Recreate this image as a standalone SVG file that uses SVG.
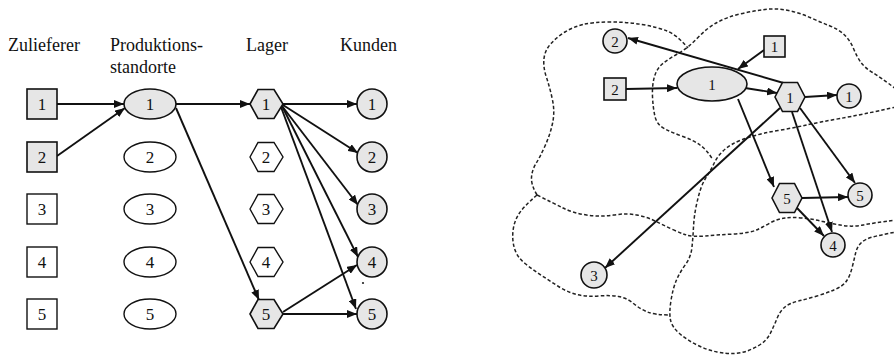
<svg xmlns="http://www.w3.org/2000/svg" width="894" height="355" viewBox="0 0 894 355">
<style>
.hdr{font-family:"Liberation Serif","Times New Roman",serif;font-size:18px;fill:#111}
.n{font-family:"Liberation Serif","Times New Roman",serif;font-size:17px;fill:#111;text-anchor:middle}
.ns{font-family:"Liberation Serif","Times New Roman",serif;font-size:15px;fill:#111;text-anchor:middle}
.f{fill:#e6e6e6;stroke:#111;stroke-width:1.6}
.w{fill:#fff;stroke:#111;stroke-width:1.4}
.a{fill:none;stroke:#111;stroke-width:1.9;marker-end:url(#ah)}
.d{fill:none;stroke:#222;stroke-width:1.5;stroke-dasharray:3.5 2.2}
</style>
<defs>
<marker id="ah" markerUnits="userSpaceOnUse" markerWidth="11" markerHeight="8" refX="10" refY="4" orient="auto">
<path d="M0,0 L10,4 L0,8 z" fill="#111"/>
</marker>
</defs>
<rect width="894" height="355" fill="#fff"/>

<g id="headers">
<text class="hdr" x="8" y="51">Zulieferer</text>
<text class="hdr" x="110" y="51">Produktions-</text>
<text class="hdr" x="110" y="73">standorte</text>
<text class="hdr" x="246" y="51">Lager</text>
<text class="hdr" x="340" y="51">Kunden</text>
</g>

<g id="regions">
<path class="d" d="M537,195 Q531,185 531.5,177.5 Q532,170 536,163.5 Q540,157 545,146 Q550,135 552.5,123.5 Q555,112 552.5,100 Q550,88 546.5,77.5 Q543,67 544,58.5 Q545,50 551,43.5 Q557,37 565,32 Q573,27 583,24.5 Q593,22 610,22 Q627,22 642,24.5 Q657,27 667,31 Q677,35 688,48"/>
<path class="d" d="M896,89 Q880,77 872.5,72.5 Q865,68 861,62.5 Q857,57 853.5,48.5 Q850,40 844,34.5 Q838,29 829,25.5 Q820,22 810,17.5 Q800,13 788.5,10.5 Q777,8 765,9.5 Q753,11 740,14 Q727,17 717,22.5 Q707,28 697.5,38 Q688,48 679,53 Q670,58 663.5,63 Q657,68 654.5,76.5 Q652,85 652.5,96.5 Q653,108 655,116.5 Q657,125 665,129 Q673,133 683,136.5 Q693,140 700,145 Q707,150 713,160"/>
<path class="d" d="M896,107 Q860,115 840,118.5 Q820,122 806.5,125 Q793,128 778,130.5 Q763,133 751.5,136.5 Q740,140 733.5,143.5 Q727,147 722,152 Q717,157 714,163.5 Q711,170 707,176 Q703,182 700.5,189.5 Q698,197 696,207 Q694,217 693.5,227 Q693,237 692,247 Q691,257 685.5,264.5 Q680,272 676.5,280 Q673,288 671,300.5 Q669,313 670.5,320 Q672,327 679.5,333.5 Q687,340 697,345 Q707,350 717,352 Q727,354 734.5,353.5 Q742,353 748.5,350.5 Q755,348 761,344 Q767,340 770.5,333 Q774,326 777,318.5 Q780,311 785,307 Q790,303 798.5,301 Q807,299 817,296 Q827,293 835,289.5 Q843,286 846.5,281 Q850,276 852,268 Q854,260 855.5,253.5 Q857,247 861,243 Q865,239 872.5,237 Q880,235 896,232"/>
<path class="d" d="M537,195 Q553,203 563,208 Q573,213 586.5,215 Q600,217 613.5,215 Q627,213 637,215 Q647,217 655,221 Q663,225 671.5,229 Q680,233 686.5,235 Q693,237 705,236 Q717,235 733.5,234 Q750,233 756.5,230 Q763,227 770,223 Q777,219 785,218 Q793,217 803,218 Q813,219 823,221.5 Q833,224 843,225.5 Q853,227 863,225 Q873,223 896,220"/>
<path class="d" d="M537,195 Q523,207 518.5,214.5 Q514,222 513,231 Q512,240 514.5,248.5 Q517,257 525,263.5 Q533,270 541.5,275.5 Q550,281 558.5,286.5 Q567,292 577,294.5 Q587,297 598.5,296 Q610,295 618.5,296.5 Q627,298 633.5,303.5 Q640,309 647.5,312 Q655,315 670,315"/>
</g>

<g id="connectors">
<path class="a" d="M57,104 L124,104"/>
<path class="a" d="M57,156 L125,108"/>
<path class="a" d="M176,104 L250,104"/>
<path class="a" d="M176,108 L259,300"/>
<path class="a" d="M283,104 L357,104"/>
<path class="a" d="M283,105 L358,153"/>
<path class="a" d="M282,106 L358,205"/>
<path class="a" d="M282,106 L358,257"/>
<path class="a" d="M281,107 L356,309"/>
<path class="a" d="M283,312 L357,265"/>
<path class="a" d="M283,314 L357,314"/>

<path class="a" d="M626,89 L677,88"/>
<path class="a" d="M764,50 L738,69"/>
<path class="a" d="M745,88 L777,93"/>
<path class="a" d="M787,84 L628,38"/>
<path class="a" d="M805,97 L837,95"/>
<path class="a" d="M738,99 L774,187"/>
<path class="a" d="M780,108 L605,268"/>
<path class="a" d="M792,112 L832,232"/>
<path class="a" d="M800,108 L855,183"/>
<path class="a" d="M802,198 L848,197"/>
<path class="a" d="M797,208 L824,236"/>
</g>

<g id="L-S1"><rect class="f" x="27" y="89" width="30" height="30"/><text class="n" x="42" y="110">1</text></g>
<g id="L-S2"><rect class="f" x="27" y="142" width="30" height="30"/><text class="n" x="42" y="163">2</text></g>
<g id="L-S3"><rect class="w" x="27" y="194" width="30" height="30"/><text class="n" x="42" y="215">3</text></g>
<g id="L-S4"><rect class="w" x="27" y="247" width="30" height="30"/><text class="n" x="42" y="268">4</text></g>
<g id="L-S5"><rect class="w" x="27" y="299" width="30" height="30"/><text class="n" x="42" y="320">5</text></g>

<g id="L-P1"><ellipse class="f" cx="150" cy="104" rx="26" ry="15"/><text class="n" x="150" y="110">1</text></g>
<g id="L-P2"><ellipse class="w" cx="150" cy="157" rx="26" ry="15"/><text class="n" x="150" y="163">2</text></g>
<g id="L-P3"><ellipse class="w" cx="150" cy="209" rx="26" ry="15"/><text class="n" x="150" y="215">3</text></g>
<g id="L-P4"><ellipse class="w" cx="150" cy="262" rx="26" ry="15"/><text class="n" x="150" y="268">4</text></g>
<g id="L-P5"><ellipse class="w" cx="150" cy="314" rx="26" ry="15"/><text class="n" x="150" y="320">5</text></g>

<g id="L-L1"><polygon class="f" points="250,104 258,89.5 274,89.5 283,104 274,118.5 258,118.5"/><text class="n" x="266" y="110">1</text></g>
<g id="L-L2"><polygon class="w" points="250,157 258,142.5 274,142.5 283,157 274,171.5 258,171.5"/><text class="n" x="266" y="163">2</text></g>
<g id="L-L3"><polygon class="w" points="250,209 258,194.5 274,194.5 283,209 274,223.5 258,223.5"/><text class="n" x="266" y="215">3</text></g>
<g id="L-L4"><polygon class="w" points="250,262 258,247.5 274,247.5 283,262 274,276.5 258,276.5"/><text class="n" x="266" y="268">4</text></g>
<g id="L-L5"><polygon class="f" points="250,314 258,299.5 274,299.5 283,314 274,328.5 258,328.5"/><text class="n" x="266" y="320">5</text></g>

<g id="L-K1"><circle class="f" cx="372" cy="104" r="15"/><text class="n" x="372" y="110">1</text></g>
<g id="L-K2"><circle class="f" cx="372" cy="157" r="15"/><text class="n" x="372" y="163">2</text></g>
<g id="L-K3"><circle class="f" cx="372" cy="209" r="15"/><text class="n" x="372" y="215">3</text></g>
<g id="L-K4"><circle class="f" cx="372" cy="262" r="15"/><text class="n" x="372" y="268">4</text></g>
<g id="L-K5"><circle class="f" cx="372" cy="314" r="15"/><text class="n" x="372" y="320">5</text></g>
<circle cx="363" cy="283" r="1.1" fill="#222"/>

<g id="R-S1"><rect class="f" x="764" y="36" width="21" height="21"/><text class="ns" x="774.5" y="52">1</text></g>
<g id="R-S2"><rect class="f" x="604" y="78" width="22" height="22"/><text class="ns" x="615" y="94.5">2</text></g>
<g id="R-P1"><ellipse class="f" cx="712" cy="84" rx="35" ry="17"/><text class="ns" x="712" y="89.5">1</text></g>
<g id="R-L1"><polygon class="f" points="775,97 782.5,82.5 797.5,82.5 805,97 797.5,111.5 782.5,111.5"/><text class="ns" x="790" y="102.5">1</text></g>
<g id="R-L5"><polygon class="f" points="772,198 779.5,183.5 794.5,183.5 802,198 794.5,212.5 779.5,212.5"/><text class="ns" x="787" y="203.5">5</text></g>
<g id="R-K1"><circle class="f" cx="849" cy="96" r="12"/><text class="ns" x="849" y="101.5">1</text></g>
<g id="R-K2"><circle class="f" cx="615" cy="41" r="12"/><text class="ns" x="615" y="46.5">2</text></g>
<g id="R-K3"><circle class="f" cx="594" cy="275" r="13"/><text class="ns" x="594" y="280.5">3</text></g>
<g id="R-K4"><circle class="f" cx="833" cy="245" r="12"/><text class="ns" x="833" y="250.5">4</text></g>
<g id="R-K5"><circle class="f" cx="860" cy="195" r="12"/><text class="ns" x="860" y="200.5">5</text></g>
</svg>
